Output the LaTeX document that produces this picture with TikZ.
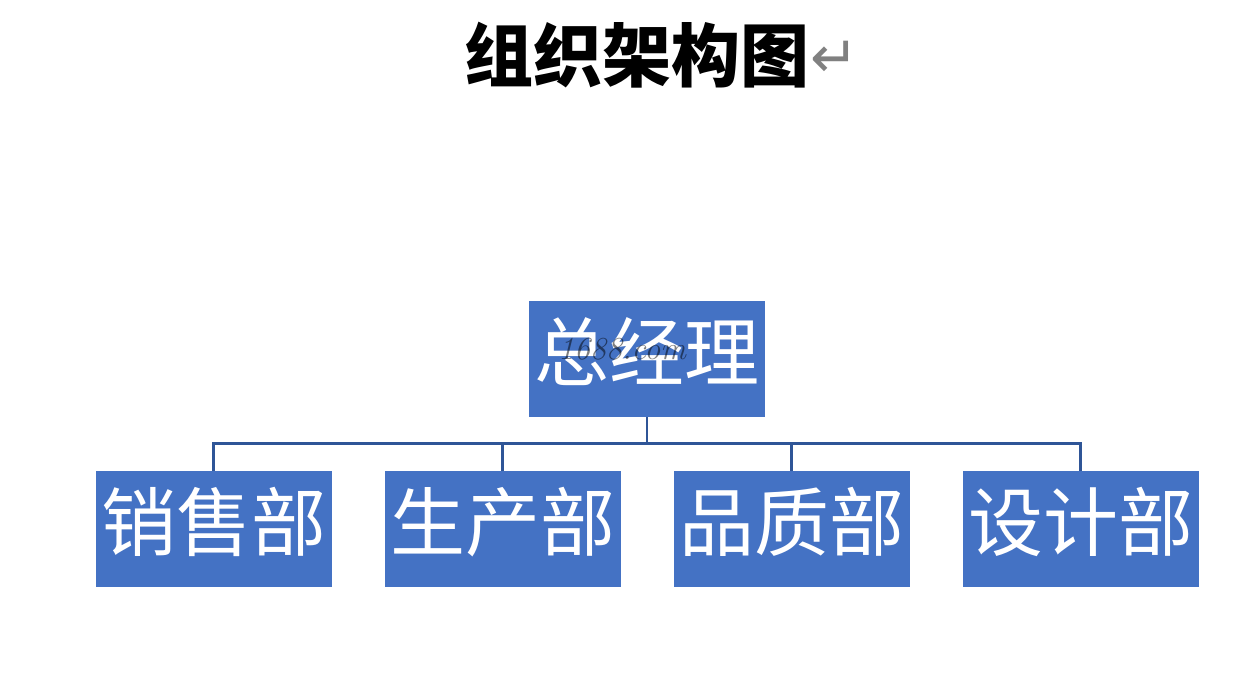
\documentclass[tikz,border=0pt]{standalone}
\usepackage{fontspec}
\newfontfamily\cjk{Noto Sans CJK SC}
\newfontfamily\dejavu{DejaVu Sans}
\definecolor{boxblue}{RGB}{68,114,196}
\definecolor{linkblue}{RGB}{47,85,151}
\tikzset{
  orgbox/.style={fill=boxblue, minimum width=236pt, minimum height=116pt, inner sep=0pt},
  orglabel/.style={text=white, font=\cjk\fontsize{75}{75}\selectfont, inner sep=0pt},
  conn/.style={draw=linkblue, line width=2.8pt}
}
\begin{document}
\begin{tikzpicture}[x=1pt,y=-1pt]
\useasboundingbox[fill=white] (0,0) rectangle (1247,693);
\node[font=\cjk\bfseries\fontsize{69}{69}\selectfont, inner sep=0pt] (title) at (637,55) {组织架构图};
\node[font=\dejavu\fontsize{58}{58}\selectfont, text=gray, inner sep=0pt, anchor=west] (ret) at ([xshift=1pt,yshift=-4pt]title.east) {↵};
\node[orgbox] (top) at (647,359) {};
\node[orgbox] (c1) at (213.5,529) {};
\node[orgbox] (c2) at (502.5,529) {};
\node[orgbox] (c3) at (791.5,529) {};
\node[orgbox] (c4) at (1080.5,529) {};
\node[orglabel] (t0) at (647,352) {总经理};
\node[orglabel] (t1) at (213.5,522) {销售部};
\node[orglabel] (t2) at (502.5,522) {生产部};
\node[orglabel] (t3) at (791.5,522) {品质部};
\node[orglabel] (t4) at (1080.5,522) {设计部};
\node[font=\itshape\fontsize{32}{32}\selectfont, text=black, opacity=0.5, inner sep=0pt] (wm) at (622,349) {1688.com};
\foreach \c in {c1,c2,c3,c4}{
  \draw[conn] (top.south) -- ++(0,26) -| (\c.north);
}
\end{tikzpicture}
\end{document}
